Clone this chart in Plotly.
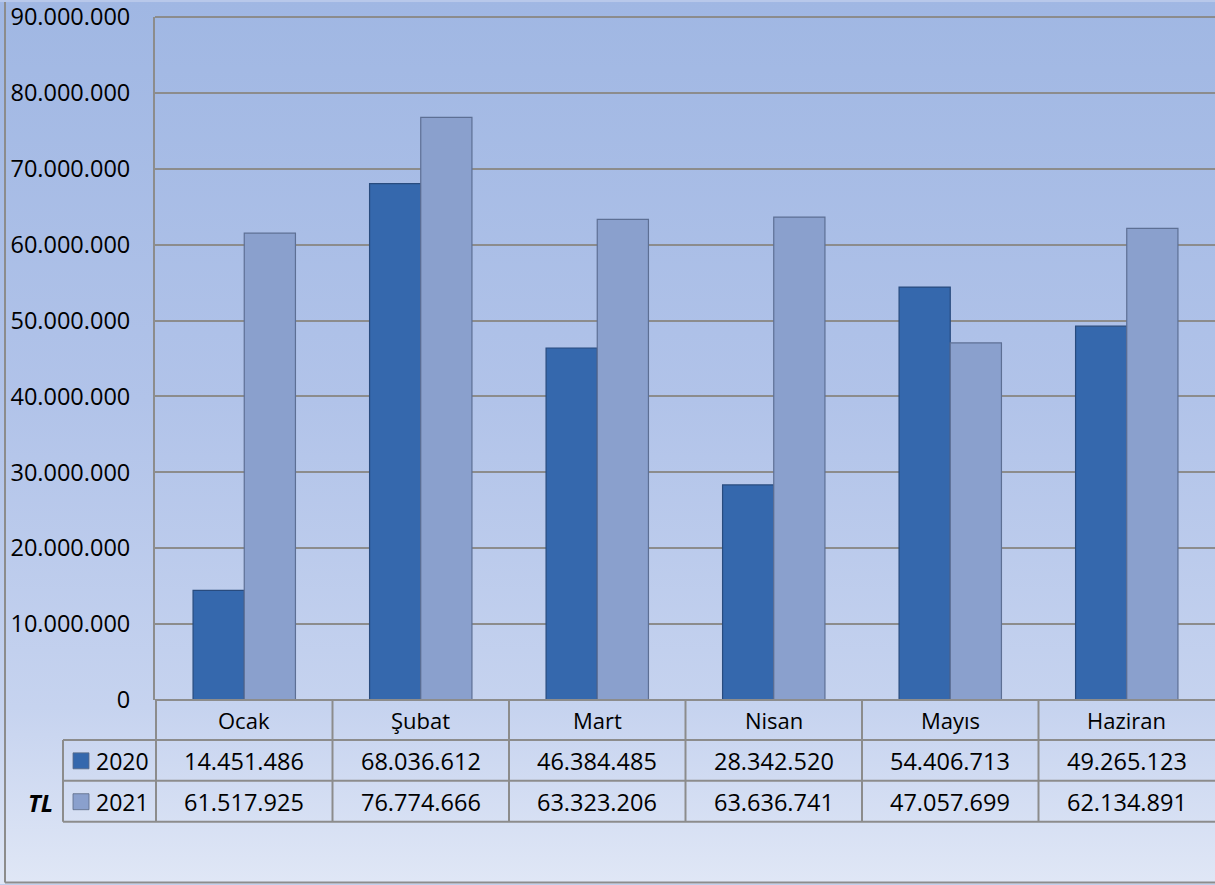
import base64
import plotly.graph_objects as go

months = ["Ocak", "Şubat", "Mart", "Nisan", "Mayıs", "Haziran"]
series_names = ["2020", "2021"]
v2020 = [14451486, 68036612, 46384485, 28342520, 54406713, 49265123]
v2021 = [61517925, 76774666, 63323206, 63636741, 47057699, 62134891]
y_ticks = [0, 10000000, 20000000, 30000000, 40000000, 50000000,
           60000000, 70000000, 80000000, 90000000]
unit_label = "TL"

W, H = 1215, 885
ML, MR, MT, MB = 155, 0, 15, 185
PW, PH = W - ML - MR, H - MT - MB

def py(p):  # pixel y -> paper y
    return (H - MB - p) / PH

def px(p):  # pixel x -> paper x
    return (p - ML) / PW

FONT = "Open Sans"
FS_NUM = 23.5
FS_TXT = 22
GRID = "#8c8c8c"
C20 = "#3568ad"
C21 = "#8aa0cd"

def fmt(v):
    return f"{v:,}".replace(",", ".")

fig = go.Figure()
fig.add_trace(go.Bar(x=months, y=v2020, name=series_names[0],
                     marker=dict(color=C20, line=dict(color="#284b7e", width=1.2))))
fig.add_trace(go.Bar(x=months, y=v2021, name=series_names[1],
                     marker=dict(color=C21, line=dict(color="#5d6f94", width=1.2))))

svg = '''<svg xmlns="http://www.w3.org/2000/svg" width="100" height="100" preserveAspectRatio="none">
<defs><linearGradient id="g" x1="0" y1="0" x2="0" y2="1">
<stop offset="0" stop-color="#a0b7e3"/>
<stop offset="0.45" stop-color="#b1c3e9"/>
<stop offset="0.8" stop-color="#c6d3ef"/>
<stop offset="1" stop-color="#e0e7f6"/>
</linearGradient></defs>
<rect x="0" y="0" width="100" height="100" fill="url(#g)"/></svg>'''
uri = "data:image/svg+xml;base64," + base64.b64encode(svg.encode()).decode()

shapes = []
annotations = []

def txt(x, y, text, size, xref="paper", xanchor="center"):
    return dict(x=x, xref=xref, y=y, yref="paper", text=text, showarrow=False,
                xanchor=xanchor, yanchor="middle",
                font=dict(family=FONT, size=size, color="#000"))

# outer chart border (left and bottom)
shapes.append(dict(type="line", xref="paper", yref="paper", x0=px(5), x1=px(5),
                   y0=py(0), y1=py(883), line=dict(color=GRID, width=2)))
shapes.append(dict(type="line", xref="paper", yref="paper", x0=px(5), x1=1,
                   y0=py(883), y1=py(883), line=dict(color=GRID, width=2)))
# top edge of plot area
shapes.append(dict(type="line", xref="paper", yref="paper", x0=0, x1=1,
                   y0=1, y1=1, line=dict(color=GRID, width=2)))

# data table lines
row_tops = [700, 740, 781, 822]
for i, yy in enumerate(row_tops):
    x0 = px(155) if i == 0 else px(63)
    shapes.append(dict(type="line", xref="paper", yref="paper", x0=x0, x1=1,
                       y0=py(yy), y1=py(yy), line=dict(color=GRID, width=2)))
for k in range(len(months)):
    shapes.append(dict(type="line", xref="x", yref="paper", x0=k - 0.5, x1=k - 0.5,
                       y0=py(700), y1=py(822), line=dict(color=GRID, width=2)))
shapes.append(dict(type="line", xref="paper", yref="paper", x0=px(63), x1=px(63),
                   y0=py(740), y1=py(822), line=dict(color=GRID, width=2)))

# month headers and values
for k, m in enumerate(months):
    annotations.append(txt(m, py(720), m, FS_TXT, xref="x"))
    annotations.append(txt(m, py(761), fmt(v2020[k]), FS_NUM, xref="x"))
    annotations.append(txt(m, py(802), fmt(v2021[k]), FS_NUM, xref="x"))

# legend keys in table
for name, col, cy in [(series_names[0], C20, 761), (series_names[1], C21, 802)]:
    shapes.append(dict(type="rect", xref="paper", yref="paper", x0=px(73), x1=px(89),
                       y0=py(cy - 8), y1=py(cy + 8), fillcolor=col,
                       line=dict(color="#5a6a85", width=0.8)))
    annotations.append(txt(px(94), py(cy), name, 23, xanchor="left"))

annotations.append(txt(px(40), py(803), f"<b><i>{unit_label}</i></b>", 24))

fig.update_layout(
    width=W, height=H,
    margin=dict(l=ML, r=MR, t=MT, b=MB, pad=0),
    paper_bgcolor="#b8c8ea",
    plot_bgcolor="rgba(0,0,0,0)",
    barmode="group", bargap=0.42, bargroupgap=0.0,
    showlegend=False,
    separators=",.",
    images=[dict(source=uri, xref="paper", yref="paper",
                 x=-ML / PW, y=1 + MT / PH, sizex=W / PW, sizey=H / PH,
                 sizing="stretch", layer="below", xanchor="left", yanchor="top")],
    shapes=shapes,
    annotations=annotations,
    xaxis=dict(showticklabels=False, showgrid=False, showline=False, zeroline=False,
               ticks=""),
    yaxis=dict(range=[0, 90000001], tickvals=y_ticks, tickformat=",d",
               showgrid=True, gridcolor=GRID, gridwidth=1.5,
               showline=True, linecolor=GRID, linewidth=2,
               zeroline=False, ticks="", ticklabelstandoff=18,
               ticklabeloverflow="allow",
               tickfont=dict(family=FONT, size=FS_NUM, color="#000")),
)

fig.write_html("out.html", config={"displayModeBar": False},
               post_script="document.body.style.margin='0';")
